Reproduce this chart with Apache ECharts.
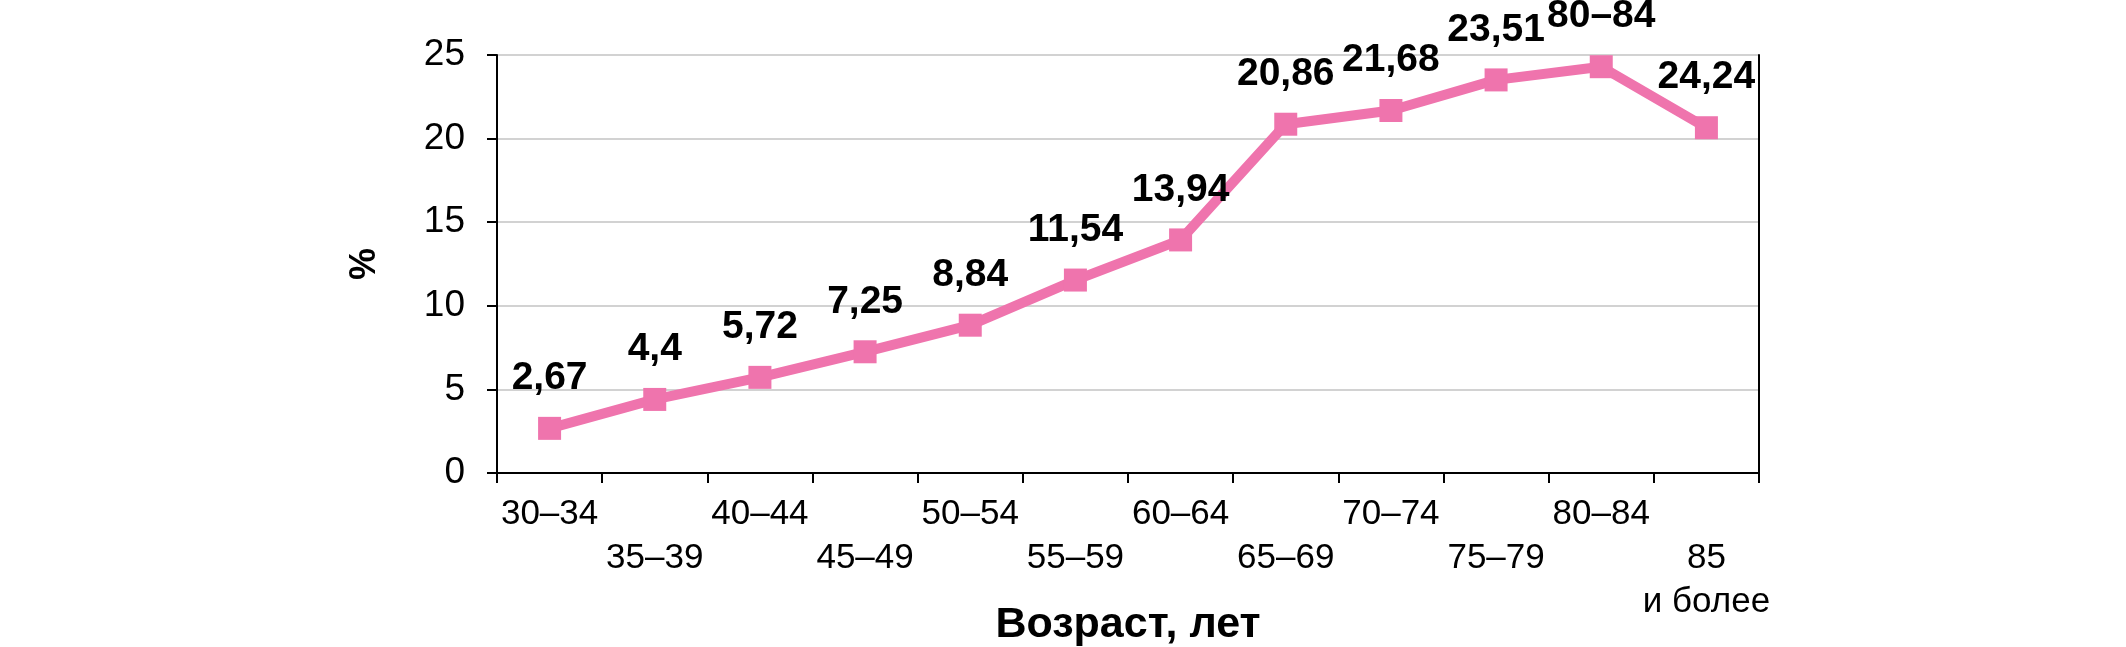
<!DOCTYPE html>
<html>
<head>
<meta charset="utf-8">
<script src="https://cdn.jsdelivr.net/npm/echarts@6/dist/echarts.min.js"></script>
<style>
  html, body { margin: 0; padding: 0; background: #fff; }
  #chart { width: 2126px; height: 647px; }
</style>
</head>
<body>
<div id="chart"></div>
<script>
// возрастные группы
const ageGroups = ["30–34", "35–39", "40–44", "45–49", "50–54", "55–59",
  "60–64", "65–69", "70–74", "75–79", "80–84", "85\nи более"];
// значения, %
const percentValues = [2.67, 4.4, 5.72, 7.25, 8.84, 11.54, 13.94, 20.86, 21.68, 23.51, 24.3, 20.65];
// подписи точек (как в оригинале)
const pointLabels = ["2,67", "4,4", "5,72", "7,25", "8,84", "11,54", "13,94",
  "20,86", "21,68", "23,51", "80–84", "24,24"];
const yTicks = [0, 5, 10, 15, 20, 25];

const FONT = "Liberation Sans, Arial, Helvetica, sans-serif";
const chart = echarts.init(document.getElementById("chart"));

chart.setOption({
  animation: false,
  textStyle: { fontFamily: FONT },
  grid: { left: 497, right: 367, top: 55, bottom: 174, outerBoundsMode: "none", containLabel: false },
  xAxis: {
    type: "category",
    data: ageGroups,
    boundaryGap: true,
    name: "Возраст, лет",
    nameLocation: "middle",
    nameGap: 131,
    nameMoveOverlap: false,
    nameTextStyle: { fontSize: 43, fontWeight: "bold", color: "#000", fontFamily: FONT },
    axisLine: { lineStyle: { color: "#000", width: 2 } },
    axisTick: { show: true, length: 10, alignWithLabel: false, lineStyle: { color: "#000", width: 2 } },
    axisLabel: {
      interval: 0,
      fontSize: 35,
      color: "#000",
      lineHeight: 44,
      margin: 19,
      formatter: function (val, idx) {
        // чередование рядов подписей
        return idx % 2 === 1 ? "\n" + val : val;
      }
    }
  },
  yAxis: [
    {
      type: "value",
      min: yTicks[0],
      max: yTicks[yTicks.length - 1],
      interval: 5,
      name: "%",
      nameLocation: "middle",
      nameGap: 114,
      nameRotate: 90,
      nameMoveOverlap: false,
      nameTextStyle: { fontSize: 36, fontWeight: "bold", color: "#000", fontFamily: FONT },
      axisLine: { show: true, lineStyle: { color: "#000", width: 2 } },
      axisTick: { show: true, length: 10, lineStyle: { color: "#000", width: 2 } },
      axisLabel: { fontSize: 37, color: "#000", margin: 32 },
      splitLine: { lineStyle: { color: "#d2d2d2", width: 2 } }
    },
    {
      type: "value",
      position: "right",
      min: 0,
      max: 25,
      interval: 5,
      axisLine: { show: true, lineStyle: { color: "#000", width: 2 } },
      axisTick: { show: false },
      axisLabel: { show: false },
      splitLine: { show: false }
    }
  ],
  series: [
    {
      type: "line",
      data: percentValues,
      symbol: "rect",
      symbolSize: 23,
      lineStyle: { color: "#ef74ad", width: 10 },
      itemStyle: { color: "#ef74ad" },
      label: {
        show: true,
        position: "top",
        distance: 19,
        fontSize: 39,
        fontWeight: "bold",
        color: "#000",
        formatter: function (p) {
          return pointLabels[p.dataIndex];
        }
      }
    }
  ]
});
</script>
</body>
</html>
